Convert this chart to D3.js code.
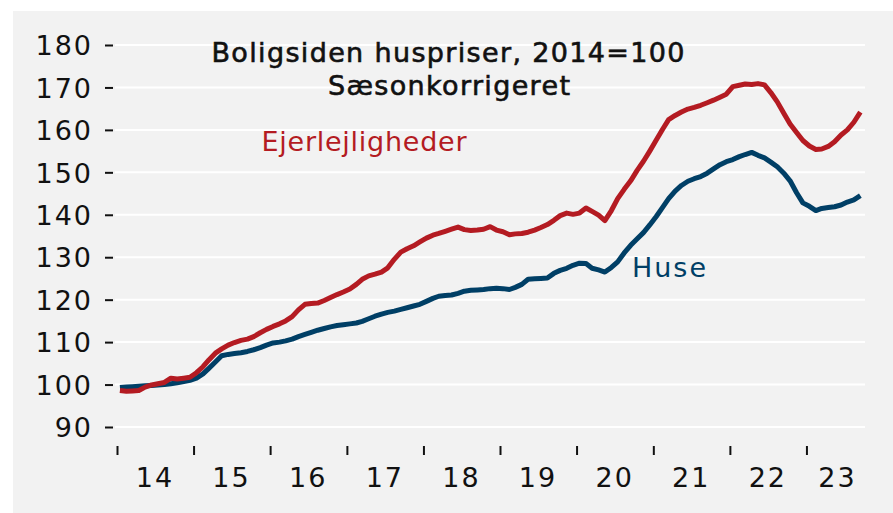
<!DOCTYPE html>
<html>
<head>
<meta charset="utf-8">
<script src="https://cdn.jsdelivr.net/npm/d3@7"></script>
<style>
  html, body { margin: 0; padding: 0; background: #ffffff; }
  svg { display: block; }
  text { font-family: "DejaVu Sans", sans-serif; }
</style>
</head>
<body>
<div id="chart"></div>
<script>
const width = 893;
const height = 513;

// Monthly index values, Jan 2014 - Sep 2023
const startYear = 2014;
const ejerlejligheder = [
  98.6, 98.4, 98.5, 98.6, 99.4, 99.9, 100.2, 100.5, 101.5, 101.3, 101.5, 101.7,
  102.8, 104.2, 105.8, 107.4, 108.4, 109.3, 109.9, 110.4, 110.7, 111.3, 112.2, 113.0,
  113.7, 114.3, 115.0, 116.0, 117.6, 118.9, 119.1, 119.2, 119.8, 120.5, 121.2, 121.8,
  122.5, 123.6, 124.8, 125.6, 126.0, 126.5, 127.5, 129.5, 131.2, 132.0, 132.7, 133.6,
  134.5, 135.2, 135.6, 136.1, 136.6, 137.1, 136.5, 136.3, 136.4, 136.6, 137.2, 136.4,
  136.0, 135.3, 135.5, 135.6, 135.9, 136.4, 137.0, 137.7, 138.7, 139.8, 140.4, 140.1,
  140.4, 141.6, 140.8, 139.9, 138.6, 141.0, 143.8, 146.0, 148.0, 150.4, 152.6, 155.0,
  157.6, 160.2, 162.4, 163.4, 164.2, 164.9, 165.3, 165.8, 166.4, 167.0, 167.7, 168.4,
  170.2, 170.5, 170.8, 170.7, 170.9, 170.6, 168.8, 166.6, 163.9, 161.4, 159.4, 157.5,
  156.2, 155.4, 155.5, 156.1, 157.2, 158.8, 160.0, 161.8, 164.2
];
const huse = [
  99.3, 99.4, 99.5, 99.6, 99.7, 99.8, 99.9, 100.0, 100.2, 100.4, 100.7, 101.0,
  101.5, 102.5, 103.8, 105.3, 106.8, 107.1, 107.3, 107.5, 107.8, 108.2, 108.7, 109.3,
  109.8, 110.0, 110.3, 110.7, 111.3, 111.8, 112.3, 112.8, 113.2, 113.6, 113.9, 114.1,
  114.3, 114.5, 114.9, 115.5, 116.1, 116.6, 117.0, 117.3, 117.7, 118.1, 118.5, 118.9,
  119.6, 120.3, 120.8, 121.0, 121.1, 121.5, 122.0, 122.2, 122.3, 122.4, 122.6, 122.7,
  122.6, 122.4, 122.9, 123.6, 124.8, 124.9, 125.0, 125.1, 126.2, 126.9, 127.4, 128.1,
  128.6, 128.5, 127.4, 127.0, 126.5, 127.6, 128.9, 131.0, 132.8, 134.3, 135.8, 137.6,
  139.6, 141.8, 143.8, 145.6, 146.9, 147.9, 148.5, 149.0, 149.8, 150.8, 151.8, 152.5,
  153.0, 153.7, 154.2, 154.7, 154.0, 153.4, 152.4, 151.3, 149.8, 148.0, 145.2, 142.8,
  142.0, 141.0, 141.5, 141.7, 141.9, 142.3, 143.0, 143.5, 144.5
];
const yTicks = [90, 100, 110, 120, 130, 140, 150, 160, 170, 180];
const years = [2014, 2015, 2016, 2017, 2018, 2019, 2020, 2021, 2022, 2023];
const yearLabels = ["14", "15", "16", "17", "18", "19", "20", "21", "22", "23"];

const red = "#b41b22";
const blue = "#003f66";
const ink = "#111111";

const svg = d3.select("#chart")
    .append("svg")
    .attr("width", width)
    .attr("height", height);

// grey panel
svg.append("rect")
    .attr("x", 13).attr("y", 11)
    .attr("width", width - 13).attr("height", height - 11)
    .attr("fill", "#f2f2f2");

const x = d3.scaleTime()
    .domain([new Date(2014, 0, 1), new Date(2024, 0, 1)])
    .range([117, 883]);

const y = d3.scaleLinear()
    .domain([90, 180])
    .range([427, 45]);

// gridlines
svg.append("g")
    .selectAll("line")
    .data(yTicks)
    .join("line")
    .attr("x1", 115).attr("x2", 865)
    .attr("y1", d => y(d)).attr("y2", d => y(d))
    .attr("stroke", "#ffffff")
    .attr("stroke-width", 2);

// y axis
const yAxis = svg.append("g")
    .attr("transform", "translate(113,0)")
    .call(d3.axisLeft(y).tickValues(yTicks).tickSize(8).tickPadding(12));
yAxis.select(".domain").remove();
yAxis.selectAll(".tick line").attr("stroke", ink).attr("stroke-width", 2);
yAxis.selectAll(".tick text")
    .attr("fill", ink)
    .style("font-size", "27px")
    .style("letter-spacing", "2px")
    .attr("dy", "0.36em");

// x axis ticks at year boundaries
const xAxis = svg.append("g")
    .attr("transform", "translate(0,446)")
    .call(d3.axisBottom(x)
        .tickValues(years.map(yr => new Date(yr, 0, 1)))
        .tickSize(9)
        .tickFormat(""));
xAxis.select(".domain").remove();
xAxis.selectAll(".tick line").attr("stroke", ink).attr("stroke-width", 2);

// year labels centred in each year
svg.append("g")
    .selectAll("text")
    .data(years)
    .join("text")
    .attr("x", (d, i) => x(new Date(d, 6, 1)) - (i === years.length - 1 ? 7 : 0))
    .attr("y", 487)
    .attr("text-anchor", "middle")
    .attr("fill", ink)
    .style("font-size", "27px")
    .style("letter-spacing", "2px")
    .text((d, i) => yearLabels[i]);

// lines
const line = d3.line()
    .x((d, i) => x(new Date(startYear, i, 15)))
    .y(d => y(d));

svg.append("path")
    .datum(huse)
    .attr("fill", "none")
    .attr("stroke", blue)
    .attr("stroke-width", 5)
    .attr("stroke-linejoin", "round")
    .attr("d", line);

svg.append("path")
    .datum(ejerlejligheder)
    .attr("fill", "none")
    .attr("stroke", red)
    .attr("stroke-width", 5)
    .attr("stroke-linejoin", "round")
    .attr("d", line);

// title
svg.append("text")
    .attr("x", 448).attr("y", 62)
    .attr("text-anchor", "middle")
    .attr("fill", ink)
    .attr("stroke", ink)
    .attr("stroke-width", 0.6)
    .attr("textLength", 473)
    .attr("lengthAdjust", "spacing")
    .style("font-size", "27px")
    .text("Boligsiden huspriser, 2014=100");

svg.append("text")
    .attr("x", 449).attr("y", 95)
    .attr("text-anchor", "middle")
    .attr("fill", ink)
    .attr("stroke", ink)
    .attr("stroke-width", 0.6)
    .attr("textLength", 242)
    .attr("lengthAdjust", "spacing")
    .style("font-size", "27px")
    .text("Sæsonkorrigeret");

// series labels
svg.append("text")
    .attr("x", 364).attr("y", 151)
    .attr("text-anchor", "middle")
    .attr("fill", red)
    .attr("textLength", 205)
    .attr("lengthAdjust", "spacing")
    .style("font-size", "27px")
    .text("Ejerlejligheder");

svg.append("text")
    .attr("x", 669).attr("y", 277)
    .attr("text-anchor", "middle")
    .attr("fill", blue)
    .attr("textLength", 74)
    .attr("lengthAdjust", "spacing")
    .style("font-size", "27px")
    .text("Huse");
</script>
</body>
</html>
